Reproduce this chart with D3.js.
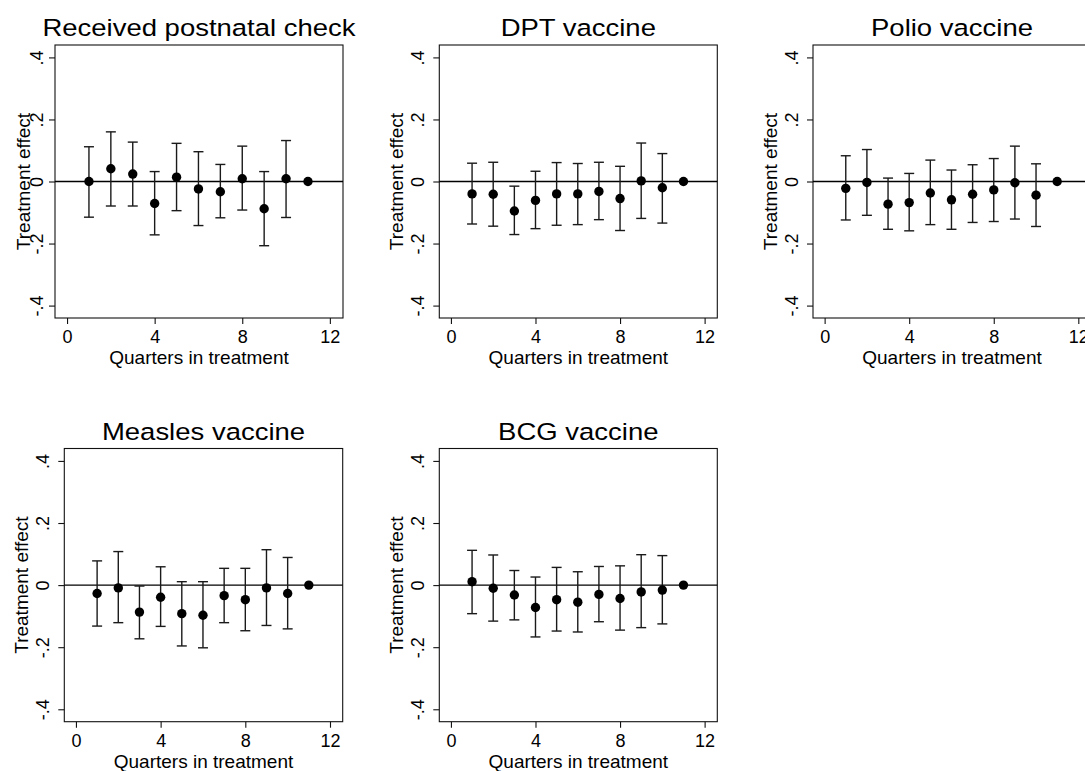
<!DOCTYPE html>
<html>
<head>
<meta charset="utf-8">
<script src="https://cdn.jsdelivr.net/npm/d3@7"></script>
<style>
  body { margin: 0; background: #fff; }
  svg { display: block; overflow: hidden; }
  text { font-family: "Liberation Sans", Arial, Helvetica, sans-serif; fill: #000; }
</style>
</head>
<body>
<svg id="chart" width="1085" height="771"></svg>
<script>
// values
const quarters = [1, 2, 3, 4, 5, 6, 7, 8, 9, 10, 11];
const xTicks = [0, 4, 8, 12];
const yTicks = [-0.4, -0.2, 0, 0.2, 0.4];
const yTickLabels = ["-.4", "-.2", "0", ".2", ".4"];
const titles = ["Received postnatal check", "DPT vaccine", "Polio vaccine", "Measles vaccine", "BCG vaccine"];
const xTitle = "Quarters in treatment";
const yTitle = "Treatment effect";

const postnatalEst = [0.000, 0.041, 0.024, -0.071, 0.014, -0.024, -0.033, 0.009, -0.088, 0.009, 0];
const postnatalLo  = [-0.115, -0.079, -0.079, -0.172, -0.094, -0.142, -0.117, -0.092, -0.207, -0.116, null];
const postnatalHi  = [0.112, 0.160, 0.127, 0.032, 0.123, 0.096, 0.055, 0.114, 0.032, 0.132, null];

const dptEst = [-0.040, -0.041, -0.095, -0.061, -0.040, -0.040, -0.032, -0.055, 0.002, -0.020, 0];
const dptLo  = [-0.137, -0.144, -0.171, -0.152, -0.141, -0.139, -0.123, -0.158, -0.119, -0.134, null];
const dptHi  = [0.059, 0.062, -0.015, 0.033, 0.061, 0.058, 0.062, 0.049, 0.124, 0.090, null];

const polioEst = [-0.022, -0.003, -0.073, -0.068, -0.037, -0.059, -0.041, -0.027, -0.004, -0.044, 0];
const polioLo  = [-0.124, -0.109, -0.154, -0.159, -0.139, -0.154, -0.132, -0.129, -0.121, -0.145, null];
const polioHi  = [0.083, 0.103, 0.011, 0.026, 0.069, 0.037, 0.054, 0.074, 0.114, 0.057, null];

const measlesEst = [-0.027, -0.009, -0.087, -0.039, -0.092, -0.097, -0.034, -0.047, -0.009, -0.027, 0];
const measlesLo  = [-0.132, -0.121, -0.173, -0.133, -0.196, -0.202, -0.121, -0.147, -0.130, -0.141, null];
const measlesHi  = [0.078, 0.108, -0.003, 0.059, 0.011, 0.011, 0.054, 0.054, 0.114, 0.089, null];

const bcgEst = [0.011, -0.010, -0.032, -0.072, -0.047, -0.055, -0.030, -0.043, -0.022, -0.016, 0];
const bcgLo  = [-0.092, -0.116, -0.112, -0.167, -0.148, -0.151, -0.118, -0.145, -0.137, -0.125, null];
const bcgHi  = [0.112, 0.097, 0.047, 0.026, 0.057, 0.043, 0.060, 0.062, 0.098, 0.095, null];

const estimates = [postnatalEst, dptEst, polioEst, measlesEst, bcgEst];
const lowers = [postnatalLo, dptLo, polioLo, measlesLo, bcgLo];
const uppers = [postnatalHi, dptHi, polioHi, measlesHi, bcgHi];

// plot-region boxes of the five panels
const panels = [
  { left: 55,    right: 343,   top: 45,  bottom: 318,   tickGap: 12, titleGap: 25 },
  { left: 439.3, right: 717.3, top: 45,  bottom: 318,   tickGap: 15, titleGap: 36 },
  { left: 813,   right: 1091,  top: 45,  bottom: 318,   tickGap: 15, titleGap: 36 },
  { left: 64.3,  right: 342.7, top: 448.5, bottom: 721.7, tickGap: 15, titleGap: 36 },
  { left: 439.3, right: 717.3, top: 448.5, bottom: 721.7, tickGap: 15, titleGap: 36 }
];

const svg = d3.select("#chart");
svg.append("rect").attr("width", 1085).attr("height", 771).attr("fill", "#fff");

panels.forEach((p, k) => {
  const g = svg.append("g");
  const x = d3.scaleLinear().domain([-0.55, 12.6]).range([p.left, p.right]);
  const y = d3.scaleLinear().domain([-0.44, 0.44]).range([p.bottom, p.top]);

  const pts = quarters.map((q, i) => ({ q: q, est: estimates[k][i], lo: lowers[k][i], hi: uppers[k][i] }));

  // frame
  g.append("rect")
    .attr("x", p.left).attr("y", p.top)
    .attr("width", p.right - p.left).attr("height", p.bottom - p.top)
    .attr("fill", "none").attr("stroke", "#111").attr("stroke-width", 1.1);

  // zero line
  g.append("line")
    .attr("x1", p.left).attr("x2", p.right)
    .attr("y1", y(0)).attr("y2", y(0))
    .attr("stroke", "#000").attr("stroke-width", 1.3);

  // axes
  const xAxis = g.append("g").attr("transform", `translate(0,${p.bottom})`)
    .call(d3.axisBottom(x).tickValues(xTicks).tickSize(6).tickFormat(d3.format("d")));
  xAxis.select(".domain").remove();
  xAxis.attr("font-size", null).attr("font-family", null);
  xAxis.selectAll("line").attr("stroke", "#111").attr("stroke-width", 1.1);
  xAxis.selectAll("text")
    .attr("y", 25).attr("dy", null)
    .style("font-size", "18px");

  const yAxis = g.append("g").attr("transform", `translate(${p.left},0)`)
    .call(d3.axisLeft(y).tickValues(yTicks).tickSize(6).tickFormat((d, i) => yTickLabels[i]));
  yAxis.select(".domain").remove();
  yAxis.attr("font-size", null).attr("font-family", null);
  yAxis.selectAll("line").attr("stroke", "#111").attr("stroke-width", 1.1);
  yAxis.selectAll("text")
    .attr("x", null).attr("dy", null)
    .attr("text-anchor", "middle")
    .attr("transform", `translate(${-p.tickGap},0) rotate(-90)`)
    .style("font-size", "18px");

  // error bars
  const bars = pts.filter(d => d.lo !== null);
  g.selectAll(".bar").data(bars).enter().append("line")
    .attr("x1", d => x(d.q)).attr("x2", d => x(d.q))
    .attr("y1", d => y(d.lo)).attr("y2", d => y(d.hi))
    .attr("stroke", "#1a1a1a").attr("stroke-width", 1.4);
  ["lo", "hi"].forEach(end => {
    g.selectAll(".cap-" + end).data(bars).enter().append("line")
      .attr("x1", d => x(d.q) - 5).attr("x2", d => x(d.q) + 5)
      .attr("y1", d => y(d[end])).attr("y2", d => y(d[end]))
      .attr("stroke", "#1a1a1a").attr("stroke-width", 1.4);
  });

  // point estimates
  g.selectAll(".dot").data(pts).enter().append("circle")
    .attr("cx", d => x(d.q)).attr("cy", d => y(d.est))
    .attr("r", 4.7).attr("fill", "#000");

  // titles
  const cx = (p.left + p.right) / 2;
  g.append("text")
    .attr("transform", `translate(${cx},${p.top - 9}) scale(1.17,1)`)
    .attr("text-anchor", "middle").style("font-size", "23.5px")
    .text(titles[k]);
  g.append("text")
    .attr("x", cx).attr("y", p.bottom + 46)
    .attr("text-anchor", "middle").style("font-size", "19px")
    .text(xTitle);
  g.append("text")
    .attr("transform", `translate(${p.left - p.titleGap},${(p.top + p.bottom) / 2}) rotate(-90)`)
    .attr("text-anchor", "middle").style("font-size", "19px")
    .text(yTitle);
});
</script>
</body>
</html>
